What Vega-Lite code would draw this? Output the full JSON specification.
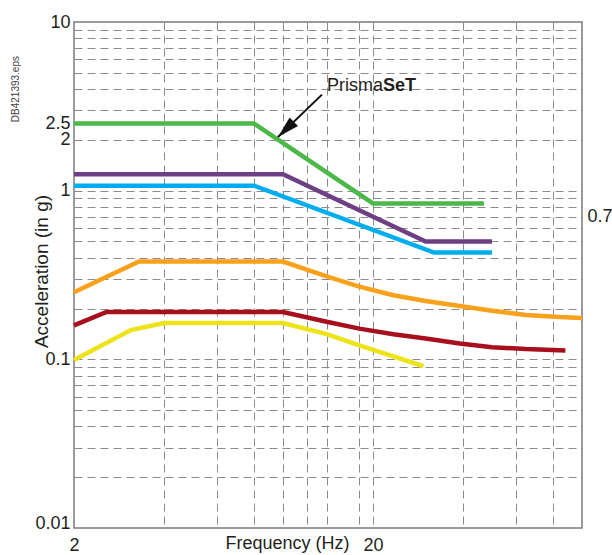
{
  "$schema": "https://vega.github.io/schema/vega-lite/v6.json",
  "width": 508,
  "height": 506,
  "autosize": {"type": "none"},
  "padding": {"left": 74, "top": 22, "right": 30, "bottom": 27},
  "background": "white",
  "config": {
    "font": "Liberation Sans",
    "view": {"stroke": "#7a7a7a", "strokeWidth": 1.5}
  },
  "title": {
    "text": "DB421393.eps",
    "orient": "left",
    "anchor": "end",
    "frame": "group",
    "fontSize": 10,
    "fontWeight": "normal",
    "color": "#444444",
    "offset": 4,
    "dx": -34,
    "dy": -7
  },
  "datasets": {
    "curves": [
      {"series": "g", "f": 2, "a": 2.5},
      {"series": "g", "f": 8, "a": 2.5},
      {"series": "g", "f": 20, "a": 0.84},
      {"series": "g", "f": 47, "a": 0.84},
      {"series": "p", "f": 2, "a": 1.25},
      {"series": "p", "f": 10, "a": 1.25},
      {"series": "p", "f": 30, "a": 0.5},
      {"series": "p", "f": 50, "a": 0.5},
      {"series": "b", "f": 2, "a": 1.07},
      {"series": "b", "f": 8, "a": 1.07},
      {"series": "b", "f": 32, "a": 0.43},
      {"series": "b", "f": 50, "a": 0.43},
      {"series": "o", "f": 2, "a": 0.25},
      {"series": "o", "f": 3.3, "a": 0.38},
      {"series": "o", "f": 10, "a": 0.38},
      {"series": "o", "f": 14, "a": 0.31},
      {"series": "o", "f": 18, "a": 0.27},
      {"series": "o", "f": 23.4, "a": 0.24},
      {"series": "o", "f": 30, "a": 0.222},
      {"series": "o", "f": 39, "a": 0.207},
      {"series": "o", "f": 50, "a": 0.194},
      {"series": "o", "f": 65, "a": 0.183},
      {"series": "o", "f": 84, "a": 0.178},
      {"series": "o", "f": 100, "a": 0.176},
      {"series": "r", "f": 2, "a": 0.159},
      {"series": "r", "f": 2.57, "a": 0.191},
      {"series": "r", "f": 10, "a": 0.191},
      {"series": "r", "f": 14, "a": 0.167},
      {"series": "r", "f": 18, "a": 0.152},
      {"series": "r", "f": 23.4, "a": 0.141},
      {"series": "r", "f": 30, "a": 0.133},
      {"series": "r", "f": 39, "a": 0.124},
      {"series": "r", "f": 50, "a": 0.118},
      {"series": "r", "f": 65, "a": 0.115},
      {"series": "r", "f": 88, "a": 0.113},
      {"series": "y", "f": 2, "a": 0.099},
      {"series": "y", "f": 3.1, "a": 0.149},
      {"series": "y", "f": 4, "a": 0.164},
      {"series": "y", "f": 10, "a": 0.164},
      {"series": "y", "f": 14, "a": 0.141},
      {"series": "y", "f": 18, "a": 0.121},
      {"series": "y", "f": 23.4, "a": 0.104},
      {"series": "y", "f": 29.5, "a": 0.091}
    ],
    "arrow": [{"f": 13.5, "a": 3.71, "f2": 9.62, "a2": 2.08}],
    "head": [{"f": 9.62, "a": 2.08}],
    "label1": [{"f": 21.6, "a": 3.9, "txt": "Prisma"}],
    "label2": [{"f": 21.6, "a": 3.9, "txt": "SeT"}]
  },
  "resolve": {"axis": {"y": "independent"}},
  "layer": [
    {
      "data": {"name": "curves"},
      "mark": {"type": "line", "strokeWidth": 4.5, "strokeJoin": "miter"},
      "encoding": {
        "x": {
          "field": "f",
          "type": "quantitative",
          "scale": {"type": "log", "domain": [2, 100], "nice": false},
          "axis": {
            "values": [2, 4, 6, 8, 10, 12, 14, 18, 20, 40, 60, 80],
            "grid": true,
            "gridDash": [8, 5],
            "gridColor": "#8a8a8a",
            "gridWidth": 1,
            "gridOpacity": {"condition": {"test": "datum.value == 2", "value": 0}, "value": 1},
            "ticks": false,
            "tickSize": 0,
            "domain": false,
            "labelExpr": "datum.value == 2 || datum.value == 20 ? format(datum.value, '~g') : ''",
            "labelFontSize": 18,
            "labelColor": "#231f20",
            "labelPadding": 8,
            "labelOverlap": false,
            "labelBound": false,
            "labelFlush": false,
            "title": "Frequency (Hz)",
            "titleFontSize": 18,
            "titleFontWeight": "normal",
            "titleColor": "#231f20",
            "titleX": 213,
            "titleY": 20,
            "titleBaseline": "alphabetic"
          }
        },
        "y": {
          "field": "a",
          "type": "quantitative",
          "scale": {"type": "log", "domain": [0.01, 10], "nice": false},
          "axis": {
            "orient": "left",
            "values": [0.01, 0.02, 0.03, 0.04, 0.05, 0.06, 0.07, 0.08, 0.09, 0.1, 0.2, 0.3, 0.4, 0.5, 0.6, 0.7, 0.8, 0.9, 1, 2, 2.5, 3, 4, 5, 6, 7, 8, 9, 10],
            "grid": true,
            "gridDash": [8, 5],
            "gridColor": "#8a8a8a",
            "gridWidth": 1,
            "gridOpacity": {"condition": {"test": "datum.value == 2.5 || datum.value == 10 || datum.value == 0.01", "value": 0}, "value": 1},
            "ticks": false,
            "tickSize": 0,
            "domain": false,
            "labelExpr": "indexof([0.01, 0.1, 1, 2, 2.5, 10], datum.value) >= 0 ? format(datum.value, '~g') : ''",
            "labelFontSize": 18,
            "labelColor": "#231f20",
            "labelPadding": 4,
            "labelOverlap": false,
            "labelBound": false,
            "labelFlush": false,
            "labelBaseline": {"condition": {"test": "datum.value == 0.01", "value": "alphabetic"}, "value": "middle"},
            "title": "Acceleration (in g)",
            "titleFontSize": 19,
            "titleFontWeight": "normal",
            "titleColor": "#231f20",
            "titleX": -27,
            "titleY": 249,
            "titleBaseline": "alphabetic"
          }
        },
        "color": {
          "field": "series",
          "type": "nominal",
          "scale": {"domain": ["g", "p", "b", "o", "r", "y"], "range": ["#4cb84a", "#6e3f85", "#00aeef", "#f9a11b", "#a80f1d", "#ece319"]},
          "legend": null
        }
      }
    },
    {
      "data": {"name": "arrow"},
      "mark": {"type": "rule", "strokeWidth": 2, "color": "#111111"},
      "encoding": {
        "x": {"field": "f", "type": "quantitative"},
        "y": {"field": "a", "type": "quantitative", "axis": null},
        "x2": {"field": "f2"},
        "y2": {"field": "a2"}
      }
    },
    {
      "data": {"name": "head"},
      "mark": {"type": "point", "shape": "M0,0L0.55,2L-0.55,2Z", "size": 484, "angle": 226, "filled": true, "color": "#111111", "opacity": 1, "strokeWidth": 0},
      "encoding": {
        "x": {"field": "f", "type": "quantitative"},
        "y": {
          "field": "a",
          "type": "quantitative",
          "axis": {
            "orient": "right",
            "values": [0.7],
            "grid": false,
            "ticks": false,
            "tickSize": 0,
            "domain": false,
            "labelExpr": "'0.7'",
            "labelFontSize": 18,
            "labelColor": "#231f20",
            "labelPadding": 5,
            "labelBound": false,
            "labelFlush": false,
            "title": null
          }
        }
      }
    },
    {
      "data": {"name": "label1"},
      "mark": {"type": "text", "align": "right", "baseline": "alphabetic", "fontSize": 18, "color": "#231f20"},
      "encoding": {
        "x": {"field": "f", "type": "quantitative"},
        "y": {"field": "a", "type": "quantitative", "axis": null},
        "text": {"field": "txt"}
      }
    },
    {
      "data": {"name": "label2"},
      "mark": {"type": "text", "align": "left", "baseline": "alphabetic", "fontSize": 18, "fontWeight": "bold", "color": "#231f20"},
      "encoding": {
        "x": {"field": "f", "type": "quantitative"},
        "y": {"field": "a", "type": "quantitative", "axis": null},
        "text": {"field": "txt"}
      }
    }
  ]
}
